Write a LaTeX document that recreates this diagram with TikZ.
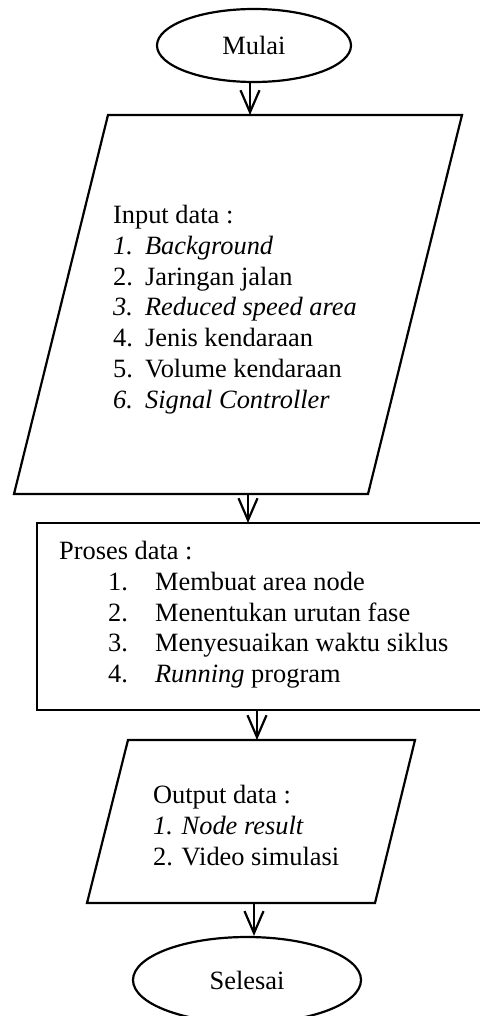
\documentclass[tikz,border=0pt]{standalone}
\usepackage{fontspec}
\setmainfont{Liberation Serif}
\usetikzlibrary{shapes.geometric,arrows.meta}
\begin{document}
\begin{tikzpicture}[x=0.5pt, y=-0.5pt, line width=1.1pt, >={Straight Barb[length=11pt,width=9.5pt]},
    terminal/.style={ellipse, draw, inner sep=0pt},
    txt/.style={anchor=north west, align=left, inner sep=0pt, font=\fontsize{13.2pt}{15.4pt}\selectfont}]
    \useasboundingbox (0,0) rectangle (479,1016);
    % start and end
    \node[terminal, minimum width=97pt, minimum height=36.5pt, font=\fontsize{13.2pt}{15.4pt}\selectfont] (mulai) at (254,45.5) {Mulai};
    \node[terminal, minimum width=114pt, minimum height=43pt, font=\fontsize{13.2pt}{15.4pt}\selectfont] (selesai) at (247,980) {Selesai};
    % input
    \draw (108,115) coordinate (intop) -- (462,115) -- (368,494) -- (14,494) -- cycle;
    \coordinate (inbot) at (248,494);
    \node[txt] (input) at (112,204) {Input data :\\
        \textit{\makebox[16pt][l]{1.}Background}\\
        \makebox[16pt][l]{2.}Jaringan jalan\\
        \textit{\makebox[16pt][l]{3.}Reduced speed area}\\
        \makebox[16pt][l]{4.}Jenis kendaraan\\
        \makebox[16pt][l]{5.}Volume kendaraan\\
        \textit{\makebox[16pt][l]{6.}Signal Controller}};
    % proses
    \draw (37,523) rectangle (481,710);
    \coordinate (prtop) at (248,523);
    \coordinate (prbot) at (257,710);
    \node[txt] (proses) at (58,540) {Proses data :\\
        \hspace*{24.5pt}\makebox[23.5pt][l]{1.}Membuat area node\\
        \hspace*{24.5pt}\makebox[23.5pt][l]{2.}Menentukan urutan fase\\
        \hspace*{24.5pt}\makebox[23.5pt][l]{3.}Menyesuaikan waktu siklus\\
        \hspace*{24.5pt}\makebox[23.5pt][l]{4.}\textit{Running} program};
    % output
    \draw (128,740) -- (415,740) -- (375,903) -- (87,903) -- cycle;
    \coordinate (outtop) at (257,740);
    \coordinate (outbot) at (254,903);
    \node[txt] (output) at (152,784) {Output data :\\
        \textit{1. Node result}\\
        2. Video simulasi};
    % arrows
    \draw[->] (mulai.south -| 250,0) -- (250,115);
    \draw[->] (inbot) -- (prtop);
    \draw[->] (prbot) -- (outtop);
    \draw[->] (outbot) -- (outbot |- selesai.north);
\end{tikzpicture}
\end{document}
